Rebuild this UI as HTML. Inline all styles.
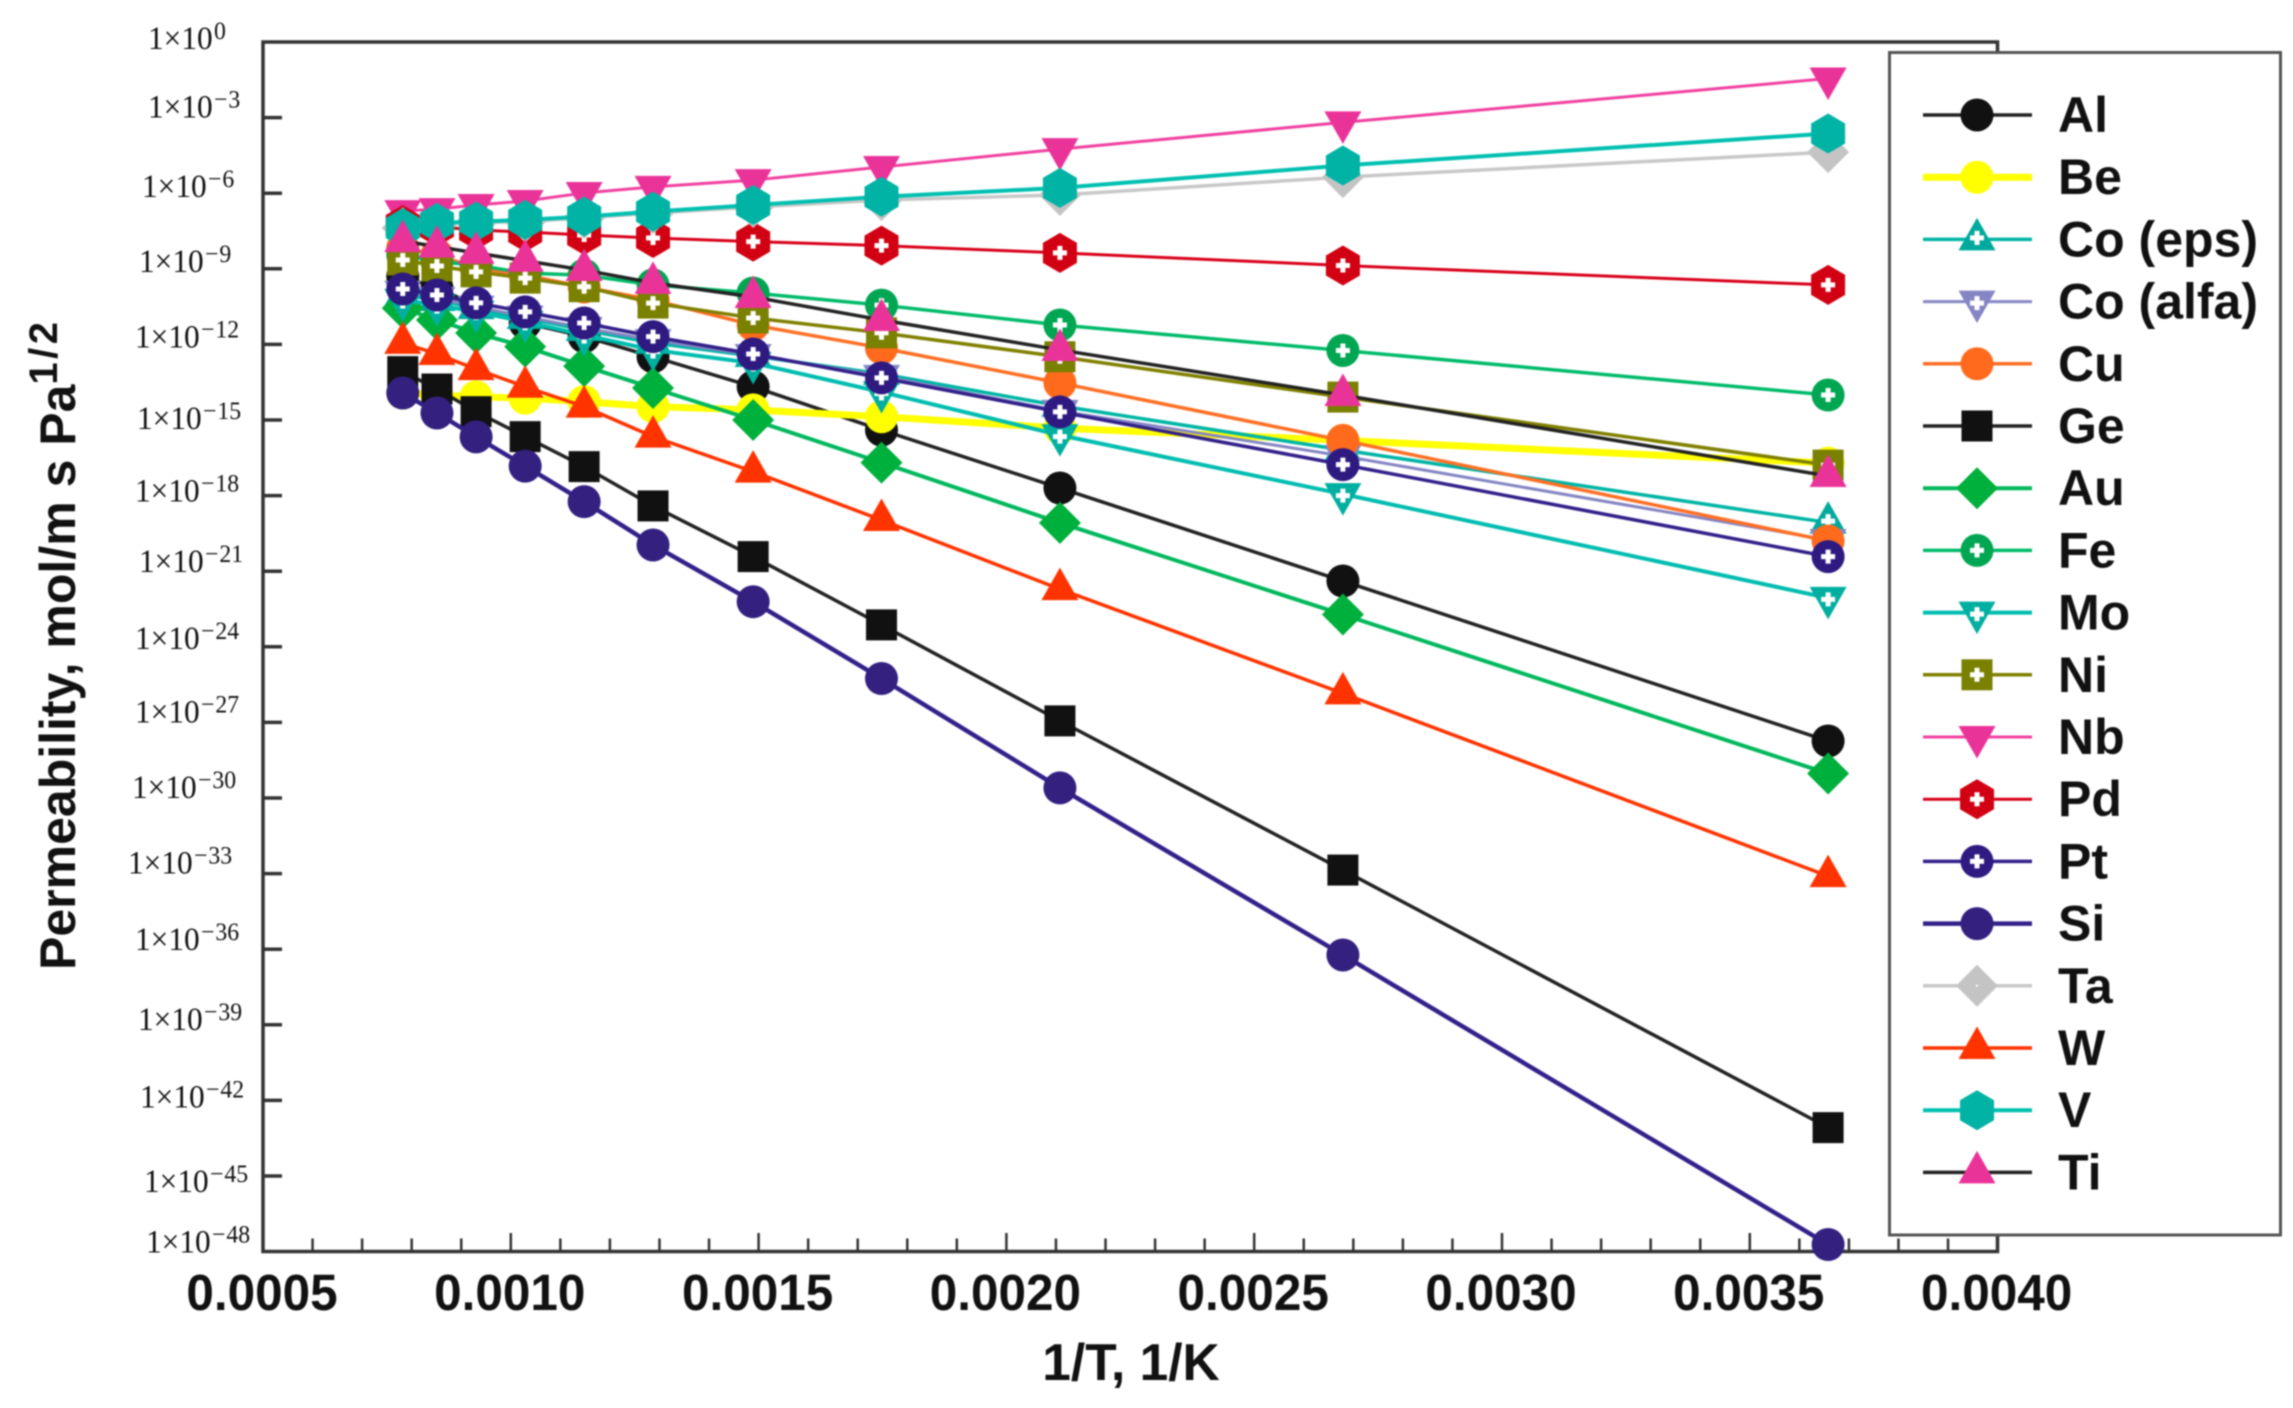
<!DOCTYPE html>
<html lang="en">
<head>
<meta charset="utf-8">
<title>Hydrogen permeability of metals</title>
<style>
html,body{margin:0;padding:0;background:#fff;width:2293px;height:1408px;overflow:hidden}
svg{display:block;filter:blur(0.7px)}
text{fill:#111}
.serif{font-family:"Liberation Serif",serif}
.sans{font-family:"Liberation Sans",sans-serif;font-weight:bold}
</style>
</head>
<body>
<svg id="chart" xmlns="http://www.w3.org/2000/svg" width="2293" height="1408" viewBox="0 0 2293 1408">
  <rect x="263" y="42" width="1734.5" height="1209.5" fill="#fff" stroke="#333" stroke-width="3.5"/>
  <g id="ticks"></g>
  <g id="series"></g>
  <g id="xlabels"></g>
  <g id="ylabels"></g>
  <text class="sans" x="1131" y="1380" font-size="51.5" text-anchor="middle">1/T, 1/K</text>
  <text class="sans" transform="translate(75 970) rotate(-90)" font-size="50">Permeability, mol/m s Pa<tspan font-size="40" letter-spacing="3.5" dy="-18">1/2</tspan></text>
  <rect x="1889.5" y="52.5" width="391" height="1182.5" fill="#fff" stroke="#555" stroke-width="3"/>
  <g id="legend"></g>
</svg>
<script>
// Chart data: 1/T values and log10(permeability)
const inverseTemps = [0.000782,0.000851,0.00093,0.001029,0.001148,0.001287,0.001489,0.001748,0.002108,0.002679,0.003658];
const alValues  = [-9.31,-9.76,-10.44,-11.15,-11.69,-12.49,-13.68,-15.40,-17.70,-21.39,-27.74];
const beValues  = [-13.93,-14.01,-14.08,-14.13,-14.27,-14.47,-14.60,-14.87,-15.32,-15.81,-16.71];
const coEpsValues = [-10.04,-10.24,-10.56,-10.95,-11.43,-11.94,-12.46,-13.17,-14.44,-16.19,-19.07];
const coAlfaValues = [-9.91,-10.16,-10.50,-10.90,-11.35,-11.83,-12.42,-13.25,-14.64,-16.43,-19.76];
const cuValues  = [-8.17,-8.45,-8.97,-9.25,-9.72,-10.24,-11.23,-12.14,-13.53,-15.81,-19.80];
const geValues  = [-13.08,-13.77,-14.67,-15.66,-16.85,-18.41,-20.42,-23.13,-26.94,-32.86,-43.08];
const auValues  = [-10.56,-11.03,-11.55,-12.09,-12.86,-13.73,-15.00,-16.69,-19.08,-22.72,-29.03];
const feValues  = [-8.45,-8.72,-8.85,-9.17,-9.25,-9.64,-9.96,-10.44,-11.23,-12.24,-14.01];
const moValues  = [-10.24,-10.44,-10.70,-11.10,-11.63,-12.22,-12.74,-13.89,-15.60,-17.94,-22.06];
const niValues  = [-8.65,-8.89,-9.12,-9.37,-9.71,-10.36,-10.95,-11.54,-12.49,-14.09,-16.79];
const nbValues  = [-6.71,-6.63,-6.47,-6.31,-5.99,-5.75,-5.48,-4.96,-4.25,-3.19,-1.45];
const pdValues  = [-7.26,-7.33,-7.46,-7.54,-7.66,-7.78,-7.92,-8.08,-8.37,-8.87,-9.64];
const ptValues  = [-9.80,-10.04,-10.35,-10.71,-11.15,-11.69,-12.38,-13.33,-14.68,-16.77,-20.42];
const siValues  = [-13.93,-14.72,-15.67,-16.83,-18.24,-19.96,-22.21,-25.26,-29.60,-36.23,-47.72];
const taValues  = [-7.38,-7.22,-7.17,-7.13,-6.98,-6.79,-6.55,-6.27,-6.07,-5.36,-4.37];
const wValues   = [-11.94,-12.38,-12.98,-13.68,-14.47,-15.66,-17.05,-18.97,-21.71,-25.85,-33.10];
const vValues   = [-7.38,-7.18,-7.13,-7.06,-6.93,-6.73,-6.47,-6.14,-5.79,-4.90,-3.63];
const tiValues  = [-7.90,-8.12,-8.37,-8.68,-9.05,-9.56,-10.12,-11.03,-12.22,-14.01,-17.22];

const seriesNames = ["Al","Be","Co (eps)","Co (alfa)","Cu","Ge","Au","Fe","Mo","Ni","Nb","Pd","Pt","Si","Ta","W","V","Ti"];
const xTickLabels = ["0.0005","0.0010","0.0015","0.0020","0.0025","0.0030","0.0035","0.0040"];
const xTickValues = [0.0005,0.0010,0.0015,0.0020,0.0025,0.0030,0.0035,0.0040];
const xMinorTickValues = [0.0006,0.0007,0.0008,0.0009,0.0011,0.0012,0.0013,0.0014,0.0016,0.0017,0.0018,0.0019,0.0021,0.0022,0.0023,0.0024,0.0026,0.0027,0.0028,0.0029,0.0031,0.0032,0.0033,0.0034,0.0036,0.0037,0.0038,0.0039];
const yTickExponents = [0,-3,-6,-9,-12,-15,-18,-21,-24,-27,-30,-33,-36,-39,-42,-45,-48];

// Axis functions
function xScale(v){ return 263 + (v - 0.0005) * 495600; }
function yScale(v){ return 42 - v * 25.2; }

const seriesValues = [alValues,beValues,coEpsValues,coAlfaValues,cuValues,geValues,auValues,feValues,moValues,niValues,nbValues,pdValues,ptValues,siValues,taValues,wValues,vValues,tiValues];

// Styles per series, in legend order
const lineColors = ["#222","#ffff00","#00b5a5","#8585c4","#ff6f24","#222","#00b85c","#00bb6a","#00bdb0","#808000","#f040a0","#d8001a","#33208a","#33208a","#c8c8c8","#ff3300","#00c0b0","#222"];
const markColors = ["#111","#ffff00","#00a99d","#8585c4","#ff6a1c","#111","#00b03c","#00a651","#00afa0","#7a8000","#ea3399","#d10012","#2e1a80","#33207f","#c4c4c4","#ff3300","#00b3a4","#ea3399"];
const markShapes = ["circle","circle","tri-up","tri-down","circle","square","diamond","circle","tri-down","square","tri-down","hex","circle","circle","diamond","tri-up","hex","tri-up"];
const lineWidths = [3.5,7,3.5,3,3.5,3.5,4,3.5,4,3.5,3,3,3.5,4.5,3.5,3.5,4,3.5];
const hasPlus = [false,false,true,true,false,false,false,true,true,true,false,true,true,false,false,false,false,false];

const NS = "http://www.w3.org/2000/svg";
function make(tag, attrs, parent){
  const el = document.createElementNS(NS, tag);
  for (const k in attrs) el.setAttribute(k, attrs[k]);
  parent.appendChild(el);
  return el;
}
function trianglePts(cx, cy, dir){
  const hw = 18.5, tip = 21.5, base = 11;
  return [[cx, cy - dir * tip],[cx + hw, cy + dir * base],[cx - hw, cy + dir * base]].map(p => p.join(",")).join(" ");
}
function drawMarker(parent, i, cx, cy){
  const color = markColors[i], shape = markShapes[i];
  let el;
  let plusY = cy;
  if (shape === "circle") {
    el = make("circle", {cx: cx, cy: cy, r: 16.5, fill: color}, parent);
  } else if (shape === "square") {
    el = make("rect", {x: cx - 15.5, y: cy - 15.5, width: 31, height: 31, fill: color}, parent);
  } else if (shape === "diamond") {
    el = make("polygon", {points: [[cx, cy - 21],[cx + 21, cy],[cx, cy + 21],[cx - 21, cy]].map(p => p.join(",")).join(" "), fill: color}, parent);
  } else if (shape === "hex") {
    el = make("polygon", {points: [[cx, cy - 20],[cx + 17, cy - 10],[cx + 17, cy + 10],[cx, cy + 20],[cx - 17, cy + 10],[cx - 17, cy - 10]].map(p => p.join(",")).join(" "), fill: color}, parent);
  } else {
    const dir = shape === "tri-up" ? 1 : -1;
    el = make("polygon", {points: trianglePts(cx, cy, dir), fill: color}, parent);
    plusY = cy - dir * 1.5;
  }
  
  
  if (hasPlus[i]) {
    const plus = make("path", {d: "M" + (cx - 7) + " " + plusY + "H" + (cx + 7) + "M" + cx + " " + (plusY - 7) + "V" + (plusY + 7), stroke: "#fff", "stroke-width": 5, fill: "none"}, parent);
    
    
  }
  if (seriesNames[i] === "Ta") {
    const dot = make("circle", {cx: cx, cy: cy, r: 1.2, fill: "#fff"}, parent);
    
    
  }
}

// Ticks
const ticksG = document.getElementById("ticks");
yTickExponents.slice(1, -1).forEach(function(e){
  const y = yScale(e);
  const t = make("line", {x1: 263, x2: 282, y1: y, y2: y, stroke: "#333", "stroke-width": 3.5}, ticksG);
  
  
});
xTickValues.slice(1, -1).forEach(function(v){
  const x = xScale(v);
  const t = make("line", {x1: x, x2: x, y1: 1251, y2: 1233, stroke: "#333", "stroke-width": 2.5}, ticksG);
  
  
});
xMinorTickValues.forEach(function(v){
  const x = xScale(v);
  const t = make("line", {x1: x, x2: x, y1: 1251, y2: 1238.5, stroke: "#333", "stroke-width": 2.5}, ticksG);
  
  
});

// Series
const seriesG = document.getElementById("series");
seriesValues.forEach(function(values, i){
  const g = make("g", {}, seriesG);
  
  
  const pts = values.map(function(v, j){ return xScale(inverseTemps[j]) + "," + yScale(v); }).join(" ");
  const line = make("polyline", {points: pts, fill: "none", stroke: lineColors[i], "stroke-width": lineWidths[i]}, g);
  
  
  values.forEach(function(v, j){
    drawMarker(g, i, xScale(inverseTemps[j]), yScale(v));
  });
});

// X tick labels
const xLabelG = document.getElementById("xlabels");
xTickLabels.forEach(function(label, i){
  const t = make("text", {"class": "sans", "font-size": 51, "text-anchor": "middle", transform: "translate(" + (xScale(xTickValues[i]) - 1) + " 1310) scale(0.97 1)"}, xLabelG);
  
  
  t.textContent = label;
});

// Y tick labels: the source figure has hand-placed labels, so each gets a small nudge from its tick
const tickLabelNudgeX = [8,8,2,-1,-5,-3,-5,-1,-5,-5,-8,-12,-5,-2,0,4,6];
const tickLabelNudgeY = [7,0,4,3,3,9,6,1,2,0,0,0,1,5,7,16,1];
const yLabelG = document.getElementById("ylabels");
yTickExponents.forEach(function(e, i){
  const left = 140 + tickLabelNudgeX[i];
  const base = yScale(e) + tickLabelNudgeY[i];
  const t = make("text", {"class": "serif", "font-size": 33, transform: "translate(" + left + " " + base + ") scale(0.95 1)"}, yLabelG);
  
  
  t.textContent = "1\u00d710";
  const sup = make("text", {"class": "serif", "font-size": 25, transform: "translate(" + (left + 66) + " " + (base - 10) + ") scale(0.95 1)"}, yLabelG);
  
  
  if (e < 0) {
    const minus = make("tspan", {dx: 0}, sup);
    minus.textContent = "\u2212";
    const digits = make("tspan", {dx: 1}, sup);
    digits.textContent = String(-e);
  } else {
    sup.textContent = String(e);
  }
});

// Legend
const legendG = document.getElementById("legend");
seriesNames.forEach(function(name, i){
  const y = 115 + i * 62.2;
  const g = make("g", {}, legendG);
  
  
  const line = make("line", {x1: 1923, x2: 2032, y1: y, y2: y, stroke: lineColors[i], "stroke-width": lineWidths[i]}, g);
  
  
  drawMarker(g, i, 1977, y);
  const t = make("text", {x: 2058, y: y + 17, "font-size": 50, "class": "sans"}, g);
  
  
  t.textContent = name;
});
</script>
</body>
</html>
